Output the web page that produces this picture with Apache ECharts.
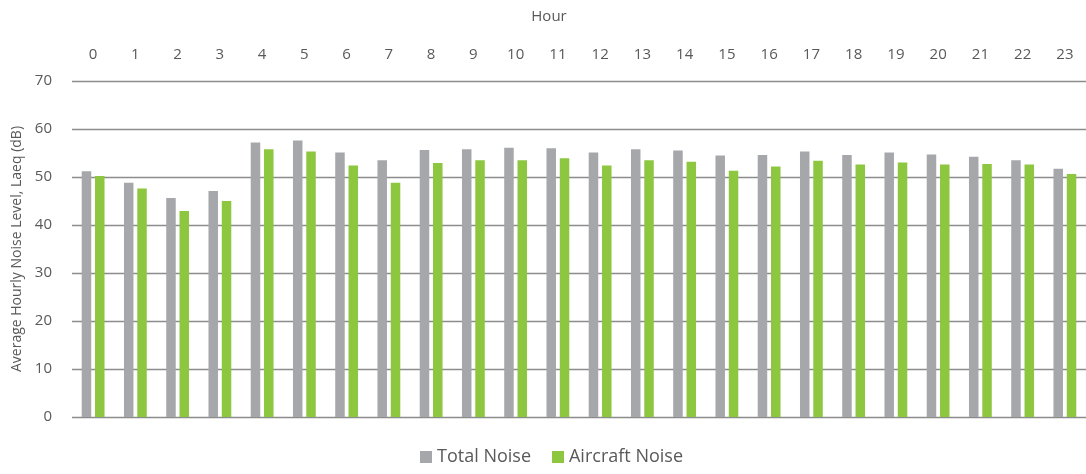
<!DOCTYPE html>
<html>
<head>
<meta charset="utf-8">
<script src="https://cdn.jsdelivr.net/npm/echarts@6/dist/echarts.min.js"></script>
<style>html,body{margin:0;padding:0;background:#fff}#c{width:1086px;height:474px}</style>
</head>
<body>
<div id="c"></div>
<script>
const hours = ['0','1','2','3','4','5','6','7','8','9','10','11','12','13','14','15','16','17','18','19','20','21','22','23'];
const totalNoise = [51.2,48.8,45.6,47.1,57.2,57.6,55.1,53.5,55.6,55.8,56.1,56.0,55.1,55.8,55.5,54.5,54.6,55.3,54.6,55.1,54.7,54.2,53.5,51.7];
const aircraftNoise = [50.2,47.6,42.9,45.0,55.8,55.3,52.4,48.8,52.9,53.5,53.5,53.9,52.4,53.5,53.2,51.3,52.2,53.4,52.6,53.0,52.6,52.7,52.6,50.6];
const yTicks = [0,10,20,30,40,50,60,70];

const font = 'Open Sans';
const chart = echarts.init(document.getElementById('c'), null, {renderer:'canvas'});
chart.setOption({
  animation:false,
  textStyle:{fontFamily:font, color:'#595959'},
  grid:{left:72, right:0, top:81, bottom:57, containLabel:false, outerBoundsMode:'none'},
  legend:{
    bottom:3, left:415, icon:'rect', itemWidth:12, itemHeight:12, itemGap:21,
    textStyle:{fontFamily:font, fontSize:18, color:'#595959'},
    data:['Total Noise','Aircraft Noise']
  },
  xAxis:{
    type:'category', position:'top', data:hours,
    name:'Hour', nameLocation:'middle', nameGap:57,
    nameTextStyle:{fontFamily:font, fontSize:15, color:'#595959', padding:[0,60,0,0]},
    axisLine:{show:false}, axisTick:{show:false},
    axisLabel:{fontFamily:font, fontSize:15, color:'#595959', margin:19}
  },
  yAxis:{
    type:'value', min:yTicks[0], max:yTicks[yTicks.length-1], interval:10,
    name:'Average Hourly Noise Level, Laeq (dB)', nameLocation:'middle', nameGap:46,
    nameTextStyle:{fontFamily:font, fontSize:14, color:'#595959'},
    axisLine:{show:false}, axisTick:{show:false},
    axisLabel:{fontFamily:font, fontSize:15, color:'#595959', margin:20},
    splitLine:{lineStyle:{color:'#8c8c8c', width:1.3}}
  },
  series:[
    {name:'Total Noise', type:'bar', data:totalNoise, barWidth:9.5, barGap:'40%', itemStyle:{color:'#a5a7aa'}},
    {name:'Aircraft Noise', type:'bar', data:aircraftNoise, barWidth:9.5, itemStyle:{color:'#8dc63f'}}
  ]
});
</script>
</body>
</html>
